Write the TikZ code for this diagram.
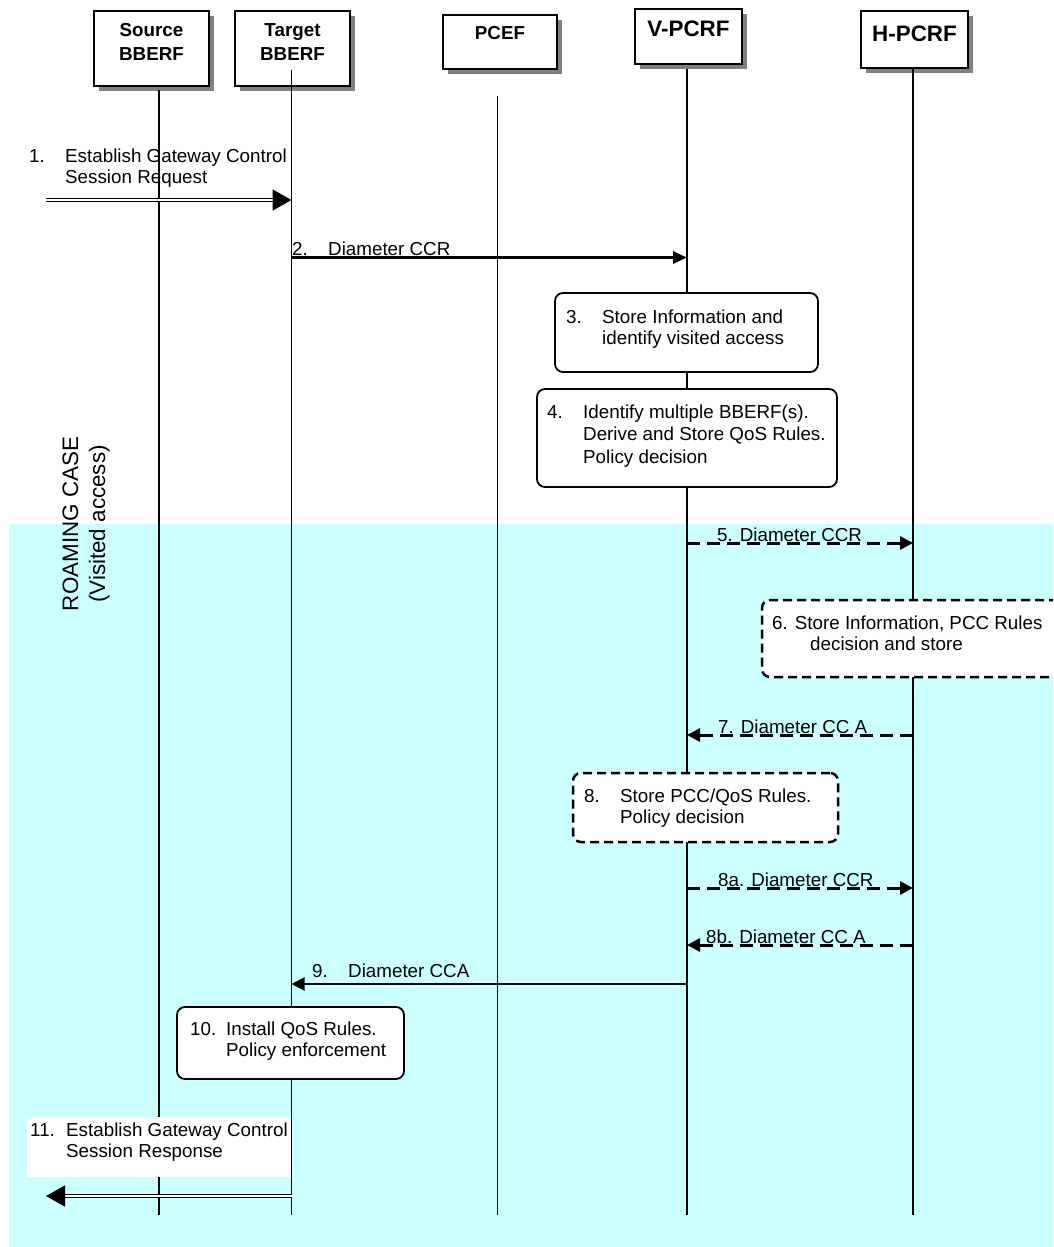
\documentclass[tikz,border=0pt]{standalone}
\usepackage{fontspec}
\setmainfont{Liberation Sans}
\usetikzlibrary{arrows.meta,shadows,fit}
\definecolor{roaming}{HTML}{CCFFFF}

\newcommand\hdrfont{\fontsize{18.8}{24.5}\selectfont\bfseries}
\newcommand\bighdrfont{\fontsize{22.4}{27}\selectfont\bfseries}
\newcommand\stepnum[2]{\makebox[36pt][l]{#1}\begin{tabular}[t]{@{}l@{}}#2\end{tabular}}

\tikzset{
  actor/.style={draw, fill=white, line width=1.8pt, inner sep=0pt,
    drop shadow={shadow xshift=5pt, shadow yshift=-5pt, fill=black!50, opacity=1}},
  life/.style={line width=1.8pt},
  note/.style={draw, fill=white, line width=1.8pt, rounded corners=8pt, inner sep=0pt},
  dnote/.style={note, line width=2.5pt, dash pattern=on 9pt off 5pt},
  txt/.style={inner sep=0pt, anchor=base west, font=\fontsize{18.8}{21.5}\selectfont},
  msg/.style={line width=3.2pt, -{Triangle[length=14pt,width=12pt]}},
  thinmsg/.style={line width=2.2pt, -{Triangle[length=13pt,width=13pt]}},
  dmsg/.style={line width=3pt, dash pattern=on 13pt off 7pt, -{Triangle[length=13pt,width=13pt]}},
  dblmsg/.style={double, double=white, line width=1.6pt, double distance=1.6pt,
    -{Triangle[length=19pt,width=21pt]}},
}

\begin{document}
\begin{tikzpicture}[x=1pt,y=-1pt]
  \useasboundingbox (0,0) rectangle (1053,1247);
  \clip (0,0) rectangle (1053,1247);
  % roaming area
  \fill [roaming] (9,524) rectangle (1053,1247);
  \node (roam) [rotate=90, inner sep=0pt, anchor=base, font=\fontsize{22.4}{27}\selectfont]
    at (78,524) {\begin{tabular}[t]{@{}c@{}}ROAMING CASE\\(Visited access)\end{tabular}};

  % entities
  \node (src) [actor, font=\hdrfont, minimum width=115pt, text height=25.5pt, text depth=49.5pt, anchor=base]
    at (151.5,36.5) {\begin{tabular}[t]{@{}c@{}}Source\\BBERF\end{tabular}};
  \node (tgt) [actor, font=\hdrfont, minimum width=115pt, text height=25.5pt, text depth=49.5pt, anchor=base]
    at (292.5,36.5) {\begin{tabular}[t]{@{}c@{}}Target\\BBERF\end{tabular}};
  \node (pcef) [actor, font=\hdrfont, minimum width=114pt, text height=25pt, text depth=29pt, anchor=base]
    at (500,40) {PCEF};
  \node (vp) [actor, font=\bighdrfont, minimum width=107pt, text height=28pt, text depth=27pt, anchor=base]
    at (688.5,37) {V-PCRF};
  \node (hp) [actor, font=\bighdrfont, minimum width=107pt, text height=30.7pt, text depth=26.3pt, anchor=base]
    at (914.5,41.7) {H-PCRF};

  % lifelines
  \foreach \a/\x/\y in {src/159/90, tgt/291.5/70, pcef/497.5/96, vp/687/69, hp/913/68} {
    \coordinate (\a-top) at (\x,\y);
    \coordinate (\a-end) at (\x,1215);
    \draw [life] (\a-top) -- (\a-end);
  }

  % messages
  \coordinate (m1) at (46,200);
  \coordinate (m11) at (46,1196);
  \draw [dblmsg] (m1) -- (tgt-end |- m1);
  \foreach \f/\t/\y/\s in {tgt/vp/257.5/msg, vp/hp/543/dmsg, hp/vp/735/dmsg,
                           vp/hp/888/dmsg, hp/vp/945/dmsg, vp/tgt/984/thinmsg}
    \draw [\s] (\f-end |- 0,\y) -- (\t-end |- 0,\y);
  \node (b11) [fill=white, inner sep=0pt, fit={(27,1117) (291,1177)}] {};
  \draw [dblmsg] (tgt-end |- m11) -- (m11);

  % procedures
  \node (n3) [note, fit={(555,293) (818,372)}] {};
  \node (n4) [note, fit={(537,389) (837,487)}] {};
  \node (n6) [dnote, fit={(762,600) (1080,677)}] {};
  \node (n8) [dnote, fit={(573,773) (838,842)}] {};
  \node (n10) [note, fit={(177,1007) (404,1079)}] {};

  % texts
  \node (l1) [txt] at (29,162) {\stepnum{1.}{Establish Gateway Control\\Session Request}};
  \node (l2) [txt] at (292,255) {\stepnum{2.}{Diameter CCR}};
  \node (l3) [txt] at (566,323) {\stepnum{3.}{Store Information and\\identify visited access}};
  \node (l4) [txt, font=\fontsize{18.8}{22.5}\selectfont] at (547,418)
    {\stepnum{4.}{Identify multiple BBERF(s).\\Derive and Store QoS Rules.\\Policy decision}};
  \node (l5) [txt] at (717,541) {5. Diameter CCR};
  \node (l6) [txt] at (772,629)
    {\begin{tabular}[t]{@{}l@{}}6. Store Information, PCC Rules\\\hspace*{38pt}decision and store\end{tabular}};
  \node (l7) [txt] at (718,733) {7. Diameter CC A};
  \node (l8) [txt] at (584,802) {\stepnum{8.}{Store PCC/QoS Rules.\\Policy decision}};
  \node (l8a) [txt] at (718,886) {8a. Diameter CCR};
  \node (l8b) [txt] at (706,943) {8b. Diameter CC A};
  \node (l9) [txt] at (312,977) {\stepnum{9.}{Diameter CCA}};
  \node (l10) [txt] at (190,1035) {\stepnum{10.}{Install QoS Rules.\\Policy enforcement}};
  \node (l11) [txt] at (30,1136) {\stepnum{11.}{Establish Gateway Control\\Session Response}};
\end{tikzpicture}
\end{document}
